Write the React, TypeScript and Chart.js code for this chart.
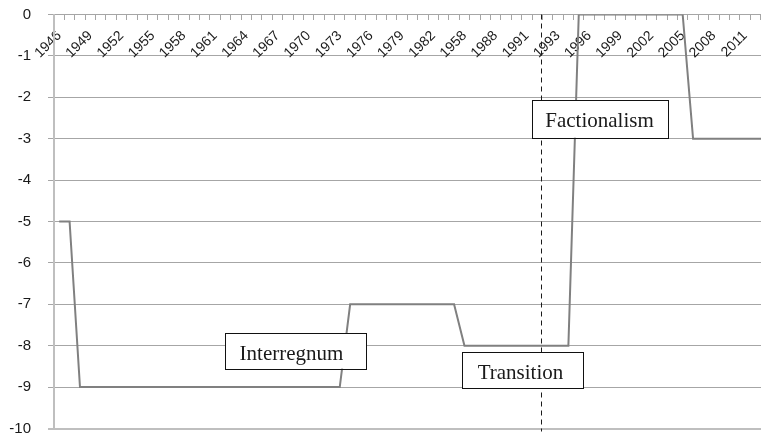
import React, { useEffect, useRef } from 'react';
import { Chart, registerables } from 'chart.js';

Chart.register(...registerables);

// Category labels (as printed in the source, including its "1958" label and repeated 1992)
const categories = [
  '1946', '1947', '1948', '1949', '1950', '1951', '1952', '1953', '1954', '1955',
  '1956', '1957', '1958', '1959', '1960', '1961', '1962', '1963', '1964', '1965',
  '1966', '1967', '1968', '1969', '1970', '1971', '1972', '1973', '1974', '1975',
  '1976', '1977', '1978', '1979', '1980', '1981', '1982', '1983', '1984', '1958',
  '1986', '1987', '1988', '1989', '1990', '1991', '1992', '1992', '1993', '1994',
  '1995', '1996', '1997', '1998', '1999', '2000', '2001', '2002', '2003', '2004',
  '2005', '2006', '2007', '2008', '2009', '2010', '2011', '2012', '2013',
];

const scoreValues = [
  -5, -5, -9, -9, -9, -9, -9, -9, -9, -9,
  -9, -9, -9, -9, -9, -9, -9, -9, -9, -9,
  -9, -9, -9, -9, -9, -9, -9, -9, -7, -7,
  -7, -7, -7, -7, -7, -7, -7, -7, -7, -8,
  -8, -8, -8, -8, -8, -8, -8, -8, -8, -8,
  0, 0, 0, 0, 0, 0, 0, 0, 0, 0,
  0, -3, -3, -3, -3, -3, -3, -3, -3,
];

const yMin = -10;
const yMax = 0;
const yStep = 1;
const labelEvery = 3;

// Dashed divider, in category units
const dividerPosition = 46.4;

const annotationLabels = ['Interregnum', 'Transition', 'Factionalism'];

// Annotation box layout: anchored on the scales (left in category units, top in value units)
const annotationLayout = [
  { x: 15.98, y: -7.69, w: 141, h: 35.6, pad: 14.6 },
  { x: 38.72, y: -8.16, w: 121, h: 36, pad: 15.7 },
  { x: 45.52, y: -2.065, w: 136, h: 37.7, pad: 13.3 },
];

const xAxisFont = { family: '"Liberation Sans", Arial, sans-serif', size: 14 };
const yAxisFont = { family: '"Liberation Sans", Arial, sans-serif', size: 15 };

const overlayPlugin = {
  id: 'overlay',
  afterDatasetsDraw(chart: any) {
    const { ctx, chartArea, scales } = chart;
    const x = scales.x;
    const y = scales.y;
    ctx.save();
    const dx = Math.round(x.getPixelForValue(dividerPosition)) + 0.5;
    ctx.setLineDash([5, 4]);
    ctx.strokeStyle = '#1a1a1a';
    ctx.lineWidth = 1;
    ctx.beginPath();
    ctx.moveTo(dx, chartArea.top);
    ctx.lineTo(dx, chartArea.bottom + 3);
    ctx.stroke();
    ctx.setLineDash([]);

    annotationLayout.forEach((b, i) => {
      const left = Math.round(x.getPixelForValue(b.x));
      const top = Math.round(y.getPixelForValue(b.y));
      ctx.fillStyle = '#ffffff';
      ctx.fillRect(left, top, b.w, b.h);
      ctx.strokeStyle = '#111111';
      ctx.lineWidth = 1;
      ctx.strokeRect(left + 0.5, top + 0.5, Math.round(b.w), Math.round(b.h));
      ctx.fillStyle = '#1a1a1a';
      ctx.font = '21px "Liberation Serif", "Times New Roman", serif';
      ctx.textAlign = 'left';
      ctx.textBaseline = 'alphabetic';
      ctx.fillText(annotationLabels[i], left + b.pad, top + 26.6);
    });
    ctx.restore();
  },
};

export default function App() {
  const canvasRef = useRef<HTMLCanvasElement | null>(null);

  useEffect(() => {
    const canvas = canvasRef.current;
    if (!canvas) return;
    const chart = new Chart(canvas, {
      type: 'line',
      data: {
        labels: categories,
        datasets: [
          {
            data: scoreValues,
            borderColor: '#808080',
            borderWidth: 2,
            pointRadius: 0,
            tension: 0,
            fill: false,
          },
        ],
      },
      options: {
        responsive: false,
        animation: false,
        events: [],
        layout: { padding: { top: 14.5, bottom: 6.5, left: 0, right: 0 } },
        plugins: {
          legend: { display: false },
          tooltip: { enabled: false },
        },
        scales: {
          x: {
            type: 'category',
            position: { y: 0 } as any,
            offset: true,
            grid: {
              offset: true,
              drawOnChartArea: false,
              drawTicks: true,
              tickLength: 5,
              color: '#a6a6a6',
            },
            border: { display: true, color: '#a6a6a6', width: 1 },
            ticks: {
              autoSkip: false,
              maxRotation: 45,
              minRotation: 45,
              padding: 8,
              font: xAxisFont,
              color: '#1a1a1a',
              callback: (_v: any, i: number) => (i % labelEvery === 0 ? categories[i] : ''),
            },
            afterFit: (s: any) => {
              s.paddingLeft = 0;
              s.paddingRight = 0;
              s.paddingTop = 0;
              s.paddingBottom = 0;
            },
          },
          y: {
            min: yMin,
            max: yMax,
            ticks: {
              stepSize: yStep,
              padding: 17,
              font: yAxisFont,
              color: '#1a1a1a',
            },
            grid: {
              color: (c: any) => (c.tick && c.tick.value === yMin ? '#bfbfbf' : '#a6a6a6'),
              lineWidth: (c: any) => (c.tick && c.tick.value === yMin ? 2 : 1),
              tickLength: 6,
              drawTicks: true,
            },
            border: { display: true, color: '#bfbfbf', width: 2 },
            afterFit: (s: any) => {
              s.width = 54;
              s.paddingTop = 0;
              s.paddingBottom = 0;
            },
          },
        },
      },
      plugins: [overlayPlugin],
    } as any);
    return () => chart.destroy();
  }, []);

  return (
    <div
      style={{
        position: 'absolute',
        left: 0,
        top: 0,
        width: 761,
        height: 435,
        overflow: 'hidden',
        background: '#fff',
      }}
    >
      <canvas ref={canvasRef} width={771} height={435} style={{ display: 'block' }} />
    </div>
  );
}
